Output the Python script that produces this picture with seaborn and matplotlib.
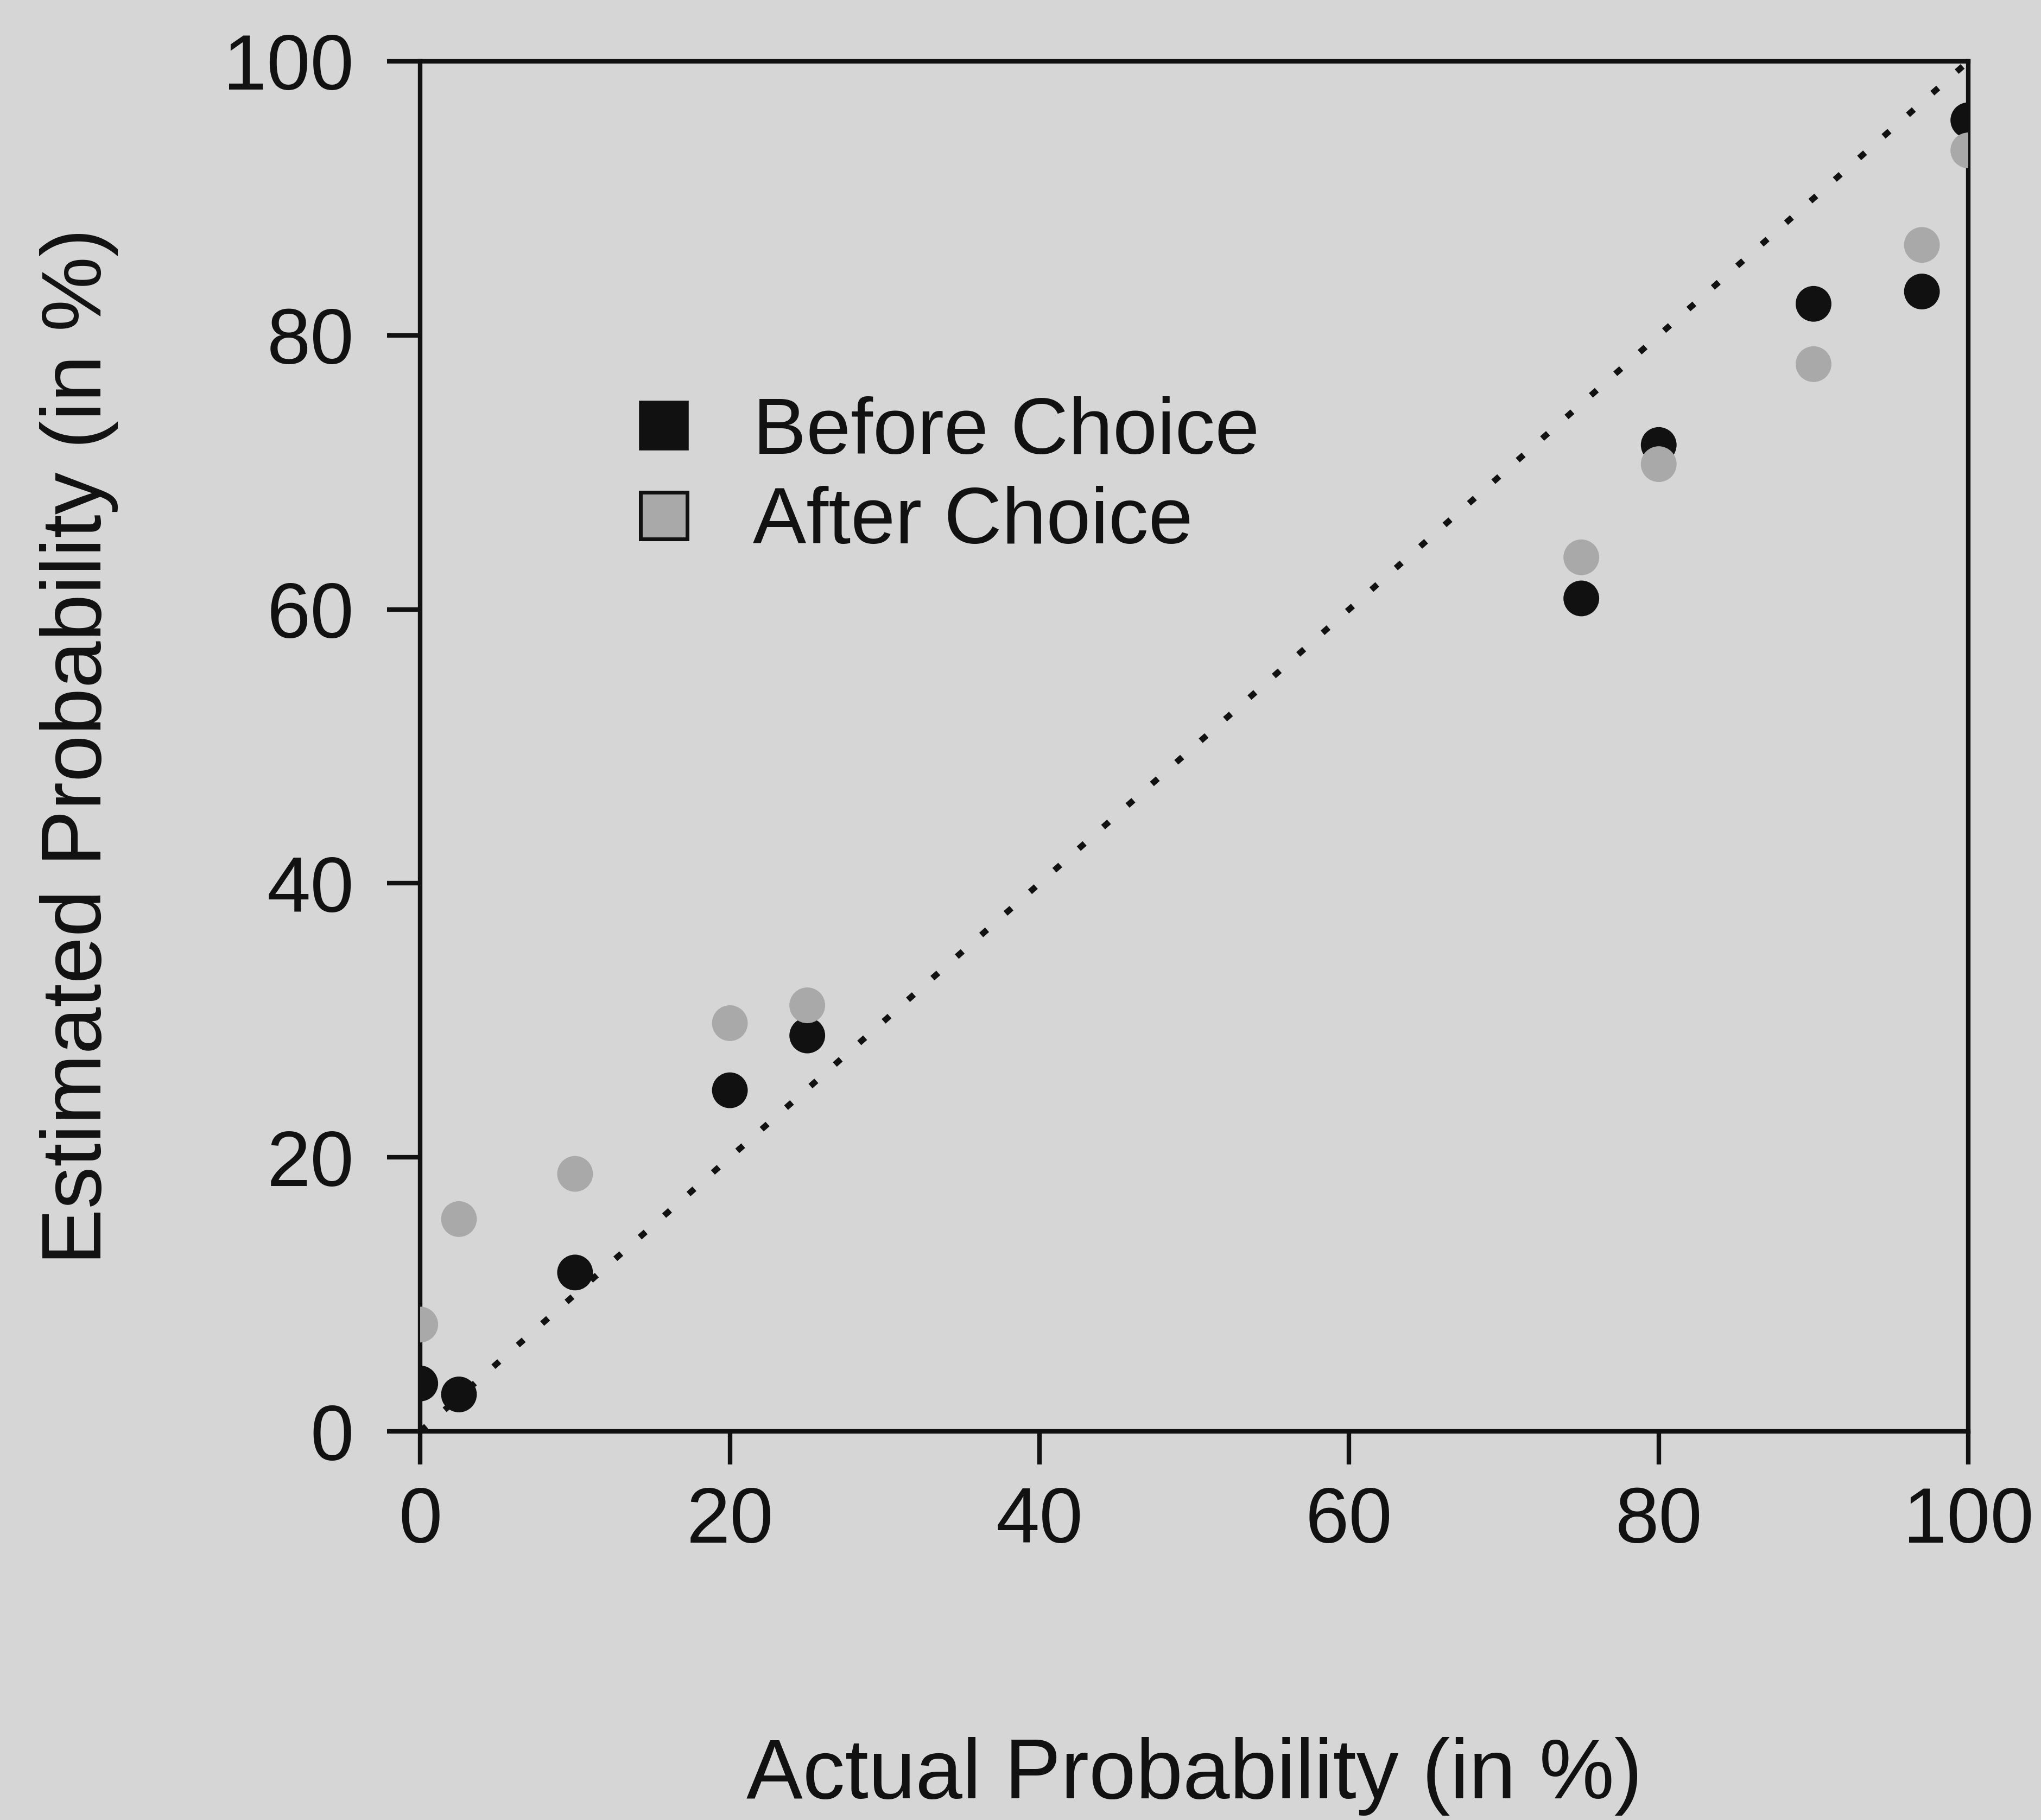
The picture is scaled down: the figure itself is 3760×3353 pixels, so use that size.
import matplotlib
matplotlib.use("Agg")
import matplotlib.pyplot as plt
from matplotlib.lines import Line2D
import seaborn as sns
import pandas as pd

# Calibration data: actual vs. estimated probability (in %)
actual = [0, 2.5, 10, 20, 25, 75, 80, 90, 97, 100]
before_choice = [3.5, 2.7, 11.6, 24.9, 28.9, 60.8, 72.0, 82.3, 83.2, 95.7]
after_choice = [7.8, 15.5, 18.8, 29.8, 31.1, 63.8, 70.6, 77.9, 86.6, 93.5]
series_names = ["Before Choice", "After Choice"]
diagonal = [0, 100]
ticks = [0, 20, 40, 60, 80, 100]

BG = "#d6d6d6"
INK = "#111111"
GREY = "#a9a9a9"

sns.set_theme(style="ticks")
plt.rcParams["font.family"] = ["Liberation Sans", "DejaVu Sans"]
plt.rcParams.update({
    "figure.facecolor": BG,
    "axes.facecolor": BG,
    "savefig.facecolor": BG,
    "axes.edgecolor": INK,
    "text.color": INK,
    "xtick.color": INK,
    "ytick.color": INK,
    "axes.labelcolor": INK,
})

df = pd.concat([
    pd.DataFrame({"actual": actual, "estimate": before_choice, "phase": series_names[0]}),
    pd.DataFrame({"actual": actual, "estimate": after_choice, "phase": series_names[1]}),
], ignore_index=True)

fig = plt.figure(figsize=(37.6, 33.53), dpi=100)
ax = fig.add_axes([0.2059, 0.2135, 0.7585, 0.7528])

# identity line
sns.lineplot(x=diagonal, y=diagonal, ax=ax, color=INK, linewidth=8,
             linestyle=(0, (1.3, 4.1)), zorder=1)

sns.scatterplot(data=df, x="actual", y="estimate", hue="phase",
                palette={series_names[0]: INK, series_names[1]: GREY},
                s=2250, linewidth=0, legend=False, ax=ax, zorder=3)

ax.set_xlim(0, 100)
ax.set_ylim(0, 100)
ax.set_xticks(ticks)
ax.set_yticks(ticks)
ax.set_xticklabels([str(t) for t in ticks])
ax.set_yticklabels([str(t) for t in ticks])

for side in ["left", "right", "top", "bottom"]:
    ax.spines[side].set_visible(True)
    ax.spines[side].set_linewidth(6)
    ax.spines[side].set_color(INK)

ax.tick_params(axis="both", direction="out", length=44, width=6,
               labelsize=104, colors=INK)
ax.tick_params(axis="x", pad=28)
ax.tick_params(axis="y", pad=44)

ax.set_xlabel("Actual Probability (in %)", fontsize=112)
ax.set_ylabel("Estimated Probability (in %)", fontsize=112)
ax.xaxis.set_label_coords(0.5851, 0.0456, transform=fig.transFigure)
ax.yaxis.set_label_coords(0.058, 0.5899, transform=fig.transFigure)

handles = [
    Line2D([], [], marker="s", linestyle="", markersize=62,
           markerfacecolor=INK, markeredgecolor=INK, markeredgewidth=4),
    Line2D([], [], marker="s", linestyle="", markersize=62,
           markerfacecolor=GREY, markeredgecolor=INK, markeredgewidth=5),
]
ax.legend(handles, series_names, loc="upper left",
          bbox_to_anchor=(0.142, 0.7556), frameon=False, fontsize=106,
          handlelength=0.6, handletextpad=0.81, labelspacing=0.2,
          borderpad=0, borderaxespad=0)

fig.savefig("out.png", dpi=100, facecolor=BG)
